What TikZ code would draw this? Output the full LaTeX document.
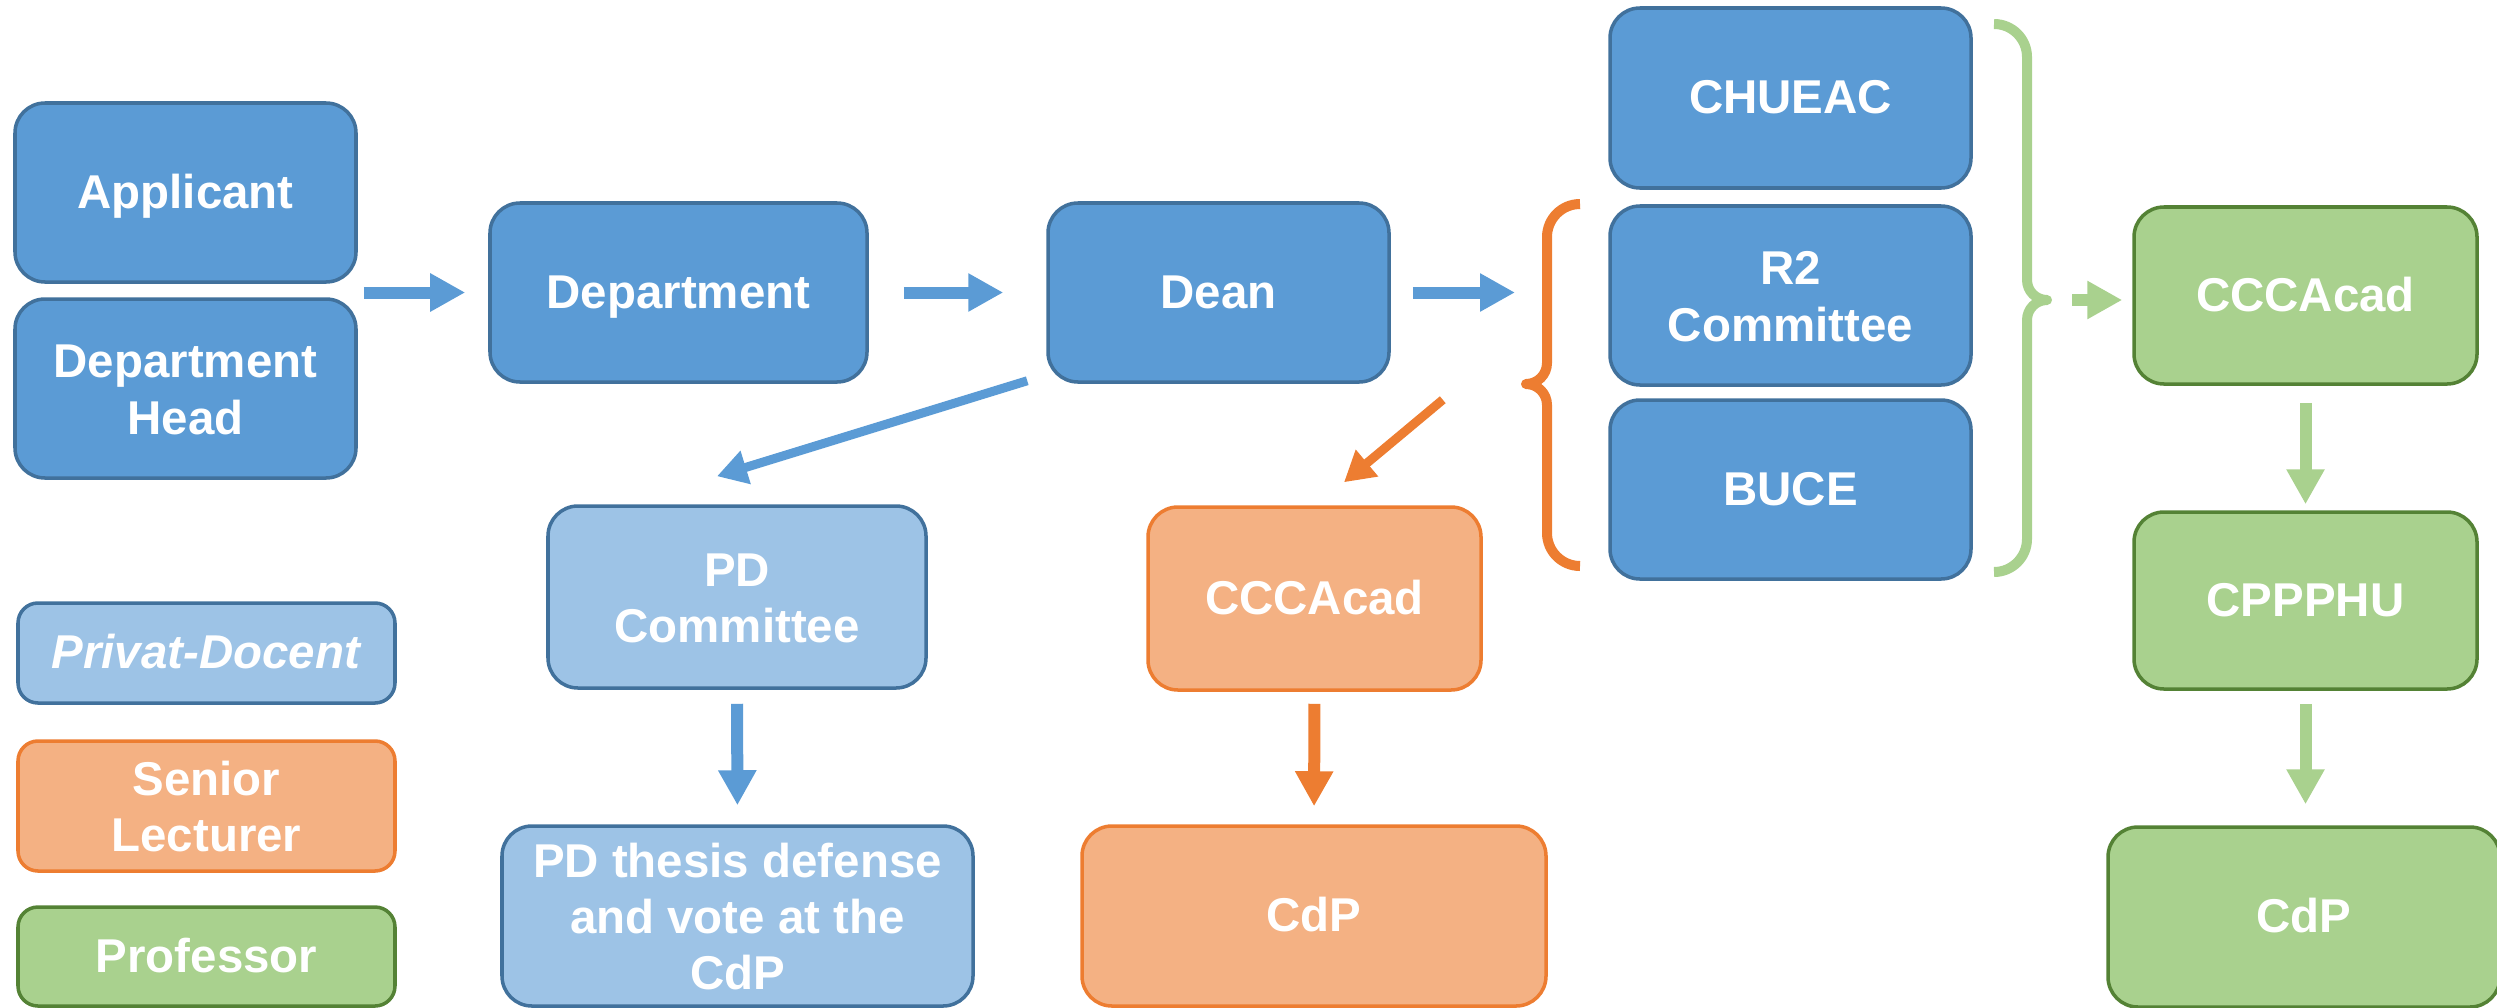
\documentclass[tikz,border=0pt]{standalone}
\usepackage{fontspec}
\setmainfont{Liberation Sans}
\usepackage{tikz}
\usepackage{xcolor}
\usetikzlibrary{arrows.meta}

\definecolor{boxblue}{HTML}{5B9BD5}
\definecolor{edgeblue}{HTML}{41719C}
\definecolor{lightblue}{HTML}{9DC3E6}
\definecolor{boxorange}{HTML}{F4B183}
\definecolor{edgeorange}{HTML}{ED7D31}
\definecolor{boxgreen}{HTML}{A9D18E}
\definecolor{edgegreen}{HTML}{548235}

\newcommand{\linestrut}{\rule[-2.8pt]{0pt}{14.5pt}}

\tikzstyle{flowbox} = [rectangle, rounded corners=0.3cm, line width=1pt, align=center, text=white, font=\fontsize{13.5}{16}\selectfont\bfseries, inner sep=2pt, execute at begin node=\linestrut, execute at end node=\linestrut]
\tikzstyle{twoline} = [inner ysep=0pt, execute at begin node=\rule{0pt}{28.8pt}]
\tikzstyle{threeline} = [inner ysep=0pt, execute at begin node=\rule{0pt}{44.8pt}]
\tikzstyle{bluebox} = [flowbox, draw=edgeblue, fill=boxblue]
\tikzstyle{lightbox} = [flowbox, draw=edgeblue, fill=lightblue]
\tikzstyle{orangebox} = [flowbox, draw=edgeorange, fill=boxorange]
\tikzstyle{greenbox} = [flowbox, draw=edgegreen, fill=boxgreen]
\tikzstyle{legendbox} = [rounded corners=0.2cm, minimum width=3.77cm]
\tikzstyle{fatarrow} = [line width=0.12cm, -{Triangle[width=0.36cm,length=0.35cm]}]
\tikzstyle{thinarrow} = [line width=0.09cm, -{Triangle[width=0.33cm,length=0.3cm]}]
\tikzstyle{bluearrow} = [fatarrow, draw=boxblue]
\tikzstyle{orangearrow} = [fatarrow, draw=edgeorange]
\tikzstyle{greenarrow} = [fatarrow, draw=boxgreen]
\tikzstyle{brace} = [line width=0.1cm, line join=round]

\begin{document}
\begin{tikzpicture}
    \useasboundingbox (0,0) rectangle (24.97,-10.07);
    % main line
    \node (appl) [bluebox, minimum width=3.41cm, minimum height=1.79cm] at (1.855,-1.925) {Applicant};
    \node (head) [bluebox, twoline, minimum width=3.41cm, minimum height=1.79cm] at (1.855,-3.885) {Department\\Head};
    \node (dept) [bluebox, minimum width=3.77cm, minimum height=1.79cm] at (6.785,-2.925) {Department};
    \node (dean) [bluebox, minimum width=3.41cm, minimum height=1.79cm] at (12.185,-2.925) {Dean};

    \node (chueac) [bluebox, minimum width=3.61cm, minimum height=1.8cm] at (17.905,-0.98) {CHUEAC};
    \node (r2) [bluebox, twoline, minimum width=3.61cm, minimum height=1.79cm] at (17.905,-2.955) {R2\\Committee};
    \node (buce) [bluebox, minimum width=3.61cm, minimum height=1.79cm] at (17.905,-4.895) {BUCE};

    % professor
    \node (cccg) [greenbox, minimum width=3.43cm, minimum height=1.77cm] at (23.055,-2.955) {CCCAcad};
    \node (cppphu) [greenbox, minimum width=3.43cm, minimum height=1.77cm] at (23.055,-6.005) {CPPPHU};
    \node (cdpg) [greenbox, minimum width=3.92cm, minimum height=1.8cm] at (23.04,-9.17) {CdP};

    % privat-docent
    \node (pdc) [lightbox, twoline, minimum width=3.78cm, minimum height=1.82cm] at (7.37,-5.97) {PD\\Committee};
    \node (pdt) [lightbox, threeline, minimum width=4.71cm, minimum height=1.8cm] at (7.375,-9.16) {PD thesis defense\\and vote at the\\CdP};

    % senior lecturer
    \node (ccco) [orangebox, minimum width=3.33cm, minimum height=1.83cm] at (13.145,-5.985) {CCCAcad};
    \node (cdpo) [orangebox, minimum width=4.64cm, minimum height=1.8cm] at (13.14,-9.16) {CdP};

    % legend
    \node (legpd) [lightbox, legendbox, minimum height=1cm] at (2.065,-6.53) {\textit{Privat-Docent}};
    \node (legsl) [orangebox, legendbox, twoline, minimum height=1.3cm] at (2.065,-8.06) {Senior\\Lecturer};
    \node (legprof) [greenbox, legendbox, minimum height=0.99cm] at (2.065,-9.565) {Professor};

    \coordinate (otip) at (15.26,-3.84);
    \coordinate (gtip) at (20.47,-3.00);

    % braces
    \draw [brace, edgeorange] (15.80,-2.04) arc[start angle=90, end angle=180, radius=0.33] -- (15.47,-3.63)
        arc[start angle=0, end angle=-90, radius=0.21] arc[start angle=90, end angle=0, radius=0.21]
        -- (15.47,-5.33) arc[start angle=180, end angle=270, radius=0.33];
    \draw [brace, boxgreen] (19.94,-0.24) arc[start angle=90, end angle=0, radius=0.33] -- (20.27,-2.80)
        arc[start angle=180, end angle=270, radius=0.2] arc[start angle=90, end angle=180, radius=0.2]
        -- (20.27,-5.39) arc[start angle=0, end angle=-90, radius=0.33];

    \draw [bluearrow, shorten <=0.06cm, shorten >=0.23cm] (dept.west -| appl.east) -- (dept.west);
    \draw [bluearrow, shorten <=0.35cm, shorten >=0.43cm] (dept.east) -- (dean.west);
    \draw [bluearrow, shorten <=0.22cm, shorten >=0.11cm] (dean.east) -- (dean.east -| otip);
    \draw [greenarrow, shorten <=0.25cm, shorten >=0.1cm] (gtip) -- (gtip -| cccg.west);

    \draw [thinarrow, draw=boxblue] ([xshift=-0.19cm,yshift=0.03cm]dean.south west) -- ([xshift=-0.2cm,yshift=0.28cm]pdc.north);
    \draw [thinarrow, draw=edgeorange] ([xshift=0.52cm,yshift=-0.16cm]dean.south east) -- ([xshift=0.295cm,yshift=0.23cm]ccco.north);

    \draw [bluearrow, shorten <=0.14cm, shorten >=0.19cm] (pdc.south) -- (pdt.north);
    \draw [orangearrow, shorten <=0.12cm, shorten >=0.18cm] (ccco.south) -- (cdpo.north);
    \draw [greenarrow, shorten <=0.17cm, shorten >=0.06cm] (cccg.south) -- (cppphu.north);
    \draw [greenarrow, shorten <=0.13cm, shorten >=0.21cm] (cppphu.south) -- (cppphu.south |- cdpg.north);
\end{tikzpicture}
\end{document}
